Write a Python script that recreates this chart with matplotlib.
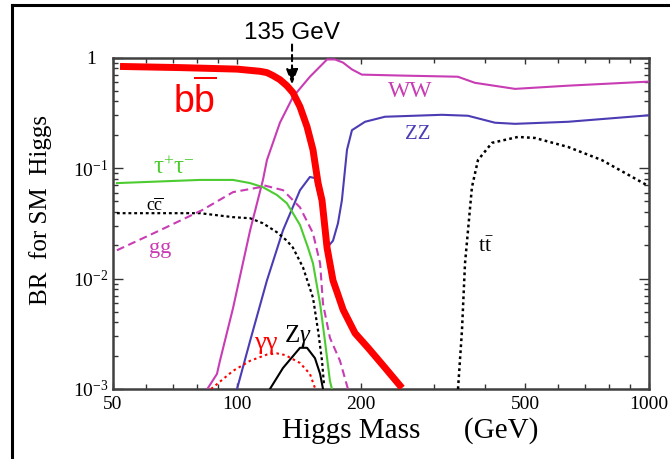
#!/usr/bin/env python3
import numpy as np
import matplotlib
matplotlib.use('Agg')
import matplotlib.pyplot as plt
from matplotlib.lines import Line2D
from matplotlib.ticker import FixedLocator, NullFormatter, LogLocator

plt.rcParams.update({
    "font.family": "serif",
    "font.serif": ["Liberation Serif", "DejaVu Serif"],
    "mathtext.fontset": "custom",
    "mathtext.rm": "Liberation Serif",
    "mathtext.it": "Liberation Serif:italic",
    "mathtext.sf": "Liberation Sans",
})

# branching ratios (mass in GeV, BR)
bb_m  = [52, 73, 100, 113.7, 118.2, 122.3, 127.1, 132.1, 136.7, 142.2, 147.9, 152.9, 157.3, 160.8,
         165.4, 171, 175, 181, 193.4, 208, 228.6, 251.5]
bb_br = [0.83, 0.81, 0.785, 0.75, 0.73, 0.686, 0.63, 0.556, 0.48, 0.358, 0.236, 0.146, 0.073, 0.051,
         0.019, 0.0096, 0.0075, 0.0052, 0.0032, 0.00236, 0.00156, 0.00102]

ww_m  = [85, 89.4, 90.9, 97.8, 107.6, 115.6, 118.2, 127.1, 136.7, 150.3, 165.4, 172.9, 180.8,
         190.1, 200.9, 251.5, 343.5, 378, 473, 636, 1000]
ww_br = [0.00102, 0.00137, 0.0018, 0.0054, 0.0273, 0.078, 0.118, 0.257, 0.44, 0.67, 0.96, 0.96, 0.90,
         0.78, 0.70, 0.686, 0.67, 0.59, 0.52, 0.556, 0.605]

zz_m  = [100, 107.6, 118.2, 129.3, 142.2, 150.3, 154.6, 159.1, 165.4, 171, 175.8, 179.7, 184.9,
         190.1, 204.5, 228.6, 314.5, 363.6, 422.7, 473, 636, 1000]
zz_br = [0.001, 0.00273, 0.0096, 0.0273, 0.063, 0.083, 0.081, 0.051, 0.019, 0.022, 0.0316, 0.051, 0.146,
         0.22, 0.262, 0.291, 0.303, 0.297, 0.257, 0.251, 0.262, 0.30]

tau_m  = [51.1, 81.3, 97.8, 107.6, 115.6, 125, 132.1, 136.7, 142.2, 148.7, 152.9, 159.1, 163.5,
          168.1, 170]
tau_br = [0.073, 0.078, 0.078, 0.073, 0.067, 0.057, 0.048, 0.039, 0.0305, 0.019, 0.0137, 0.0059, 0.0027,
          0.00118, 0.001]

cc_m  = [51.1, 81.3, 97.8, 107.6, 115.6, 125, 132.1, 136.7, 144.6, 152.9, 157.3, 160.8, 162.6]
cc_br = [0.039, 0.039, 0.0359, 0.0351, 0.0316, 0.0262, 0.022, 0.019, 0.0126, 0.0067, 0.00337, 0.0018, 0.0011]

gg_m  = [51.1, 65, 82.2, 97.8, 113.7, 115.6, 129.3, 142.2, 152.9, 159.1, 161.7, 168.1, 177.8, 185.9]
gg_br = [0.018, 0.0273, 0.0415, 0.0605, 0.067, 0.07, 0.063, 0.044, 0.0257, 0.0137, 0.0059, 0.0029, 0.0018, 0.001]

aa_m  = [86.5, 97.8, 107.6, 118.2, 125, 130.8, 142.2, 150.3, 154.6]
aa_br = [0.001, 0.00146, 0.0018, 0.00205, 0.0021, 0.00203, 0.00172, 0.00137, 0.00102]

za_m  = [120.2, 129.3, 142.2, 147.9, 154.6, 159.1, 161.7]
za_br = [0.001, 0.00155, 0.00236, 0.00236, 0.0019, 0.00137, 0.001]

tt_m  = [343.9, 351.6, 357.6, 371.7, 384.5, 415.9, 480.6, 528.6, 636, 768, 988]
tt_br = [0.001, 0.0034, 0.0137, 0.067, 0.118, 0.169, 0.191, 0.187, 0.155, 0.118, 0.07]

xticks = [50, 100, 200, 500, 1000]
xminor = [60, 70, 80, 90, 300, 400, 600, 700, 800, 900]
yticks = [1e-3, 1e-2, 1e-1, 1]
ylabels = [r'$10^{-3}$', r'$10^{-2}$', r'$10^{-1}$', '1']

magenta = '#c83cb4'
blue = '#4b3cb4'
green = '#4ccc30'


def main():
    fig = plt.figure(figsize=(6.7, 4.59), dpi=100)
    ax = fig.add_axes([113 / 670, 1 - 389 / 459, 536 / 670, 331.5 / 459])

    ax.plot(ww_m, ww_br, color=magenta, lw=1.5, zorder=3)
    ax.plot(zz_m, zz_br, color=blue, lw=1.5, zorder=3)
    ax.plot(tau_m, tau_br, color=green, lw=1.5, zorder=3)
    ax.plot(cc_m, cc_br, color='black', lw=1.6, ls=(0, (1.3, 1.3)), zorder=3)
    ax.plot(gg_m, gg_br, color=magenta, lw=1.5, ls=(0, (3.8, 2.2)), zorder=3)
    ax.plot(aa_m, aa_br, color='red', lw=1.5, ls=(0, (1.2, 1.6)), zorder=3)
    ax.plot(za_m, za_br, color='black', lw=1.5, zorder=3)
    ax.plot(tt_m, tt_br, color='black', lw=1.8, ls=(0, (1.1, 1.3)), zorder=3)
    ax.plot(bb_m, bb_br, color='red', lw=5, solid_capstyle='butt', solid_joinstyle='round', zorder=4)

    ax.set_xscale('log')
    ax.set_yscale('log')
    ax.set_xlim(50, 1000)
    ax.set_ylim(1e-3, 1)

    ax.set_xticks(xticks, [str(t) for t in xticks])
    ax.xaxis.set_minor_locator(FixedLocator(xminor))
    ax.xaxis.set_minor_formatter(NullFormatter())
    ax.set_yticks(yticks, ylabels, ha='center')
    ax.yaxis.set_minor_locator(LogLocator(base=10, subs=np.arange(2, 10)))
    ax.yaxis.set_minor_formatter(NullFormatter())

    ax.tick_params(which='both', direction='in', top=True, right=True,
                   color='#333333', width=1.0, labelsize=14)
    ax.tick_params(axis='x', which='major', length=4, pad=5)
    ax.tick_params(axis='x', which='minor', length=3.5)
    ax.tick_params(axis='y', which='major', length=7, pad=16)
    ax.tick_params(axis='y', which='minor', length=3.5)
    for sp in ax.spines.values():
        sp.set_color('#404040')
        sp.set_linewidth(1.8)

    ax.set_xlabel('Higgs Mass      (GeV)', fontsize=21, va='center')
    ax.xaxis.set_label_coords(0.554, -0.124)
    ax.set_ylabel('BR  for SM  Higgs', fontsize=18, va='center')
    ax.yaxis.set_label_coords(-0.136, 0.541)

    # curve labels
    ax.text(79, 0.41, r'$\mathsf{b\overline{b}}$', color='red', fontsize=27, ha='center', va='center')
    ax.text(264, 0.49, 'WW', color=magenta, fontsize=17, ha='center', va='center')
    ax.text(275, 0.20, 'ZZ', color=blue, fontsize=15, ha='center', va='center')
    ax.text(70.3, 0.10, r'$\mathrm{\tau}^{+}\mathrm{\tau}^{-}$', color=green, fontsize=18,
            ha='center', va='center')
    ax.text(63.2, 0.045, r'$\mathrm{c\overline{c}}$', color='black', fontsize=13, ha='center', va='center')
    ax.text(65, 0.0187, 'gg', color=magenta, fontsize=16, ha='center', va='center')
    ax.text(402, 0.0191, r'$\mathrm{t\bar{t}}$', color='black', fontsize=16, ha='center', va='center')
    ax.text(117.6, 0.00262, 'γγ', color='red', fontsize=19, ha='center', va='center')
    ax.text(140.6, 0.00303, r'$\mathrm{Z}\gamma$', color='black', fontsize=18, ha='center', va='center')

    # 135 GeV marker
    ax.annotate('', xy=(136, 0.57), xytext=(136, 1.31), xycoords='data',
                arrowprops=dict(arrowstyle='-|>,head_length=0.9,head_width=0.35',
                                color='black', lw=1.5, ls=(0, (3, 2)),
                                shrinkA=0, shrinkB=0),
                annotation_clip=False)
    ax.text(136, 1.65, '135 GeV', family='Liberation Sans', fontsize=17.5,
            ha='center', va='center', clip_on=False)

    # slide frame
    fig.add_artist(Line2D([12 / 670, 1], [1 - 5 / 459, 1 - 5 / 459],
                          transform=fig.transFigure, color='black', lw=2.2))
    fig.add_artist(Line2D([12.5 / 670, 12.5 / 670], [0, 1 - 5 / 459],
                          transform=fig.transFigure, color='black', lw=2.2))

    fig.savefig('out.png', dpi=100)


if __name__ == '__main__':
    main()
